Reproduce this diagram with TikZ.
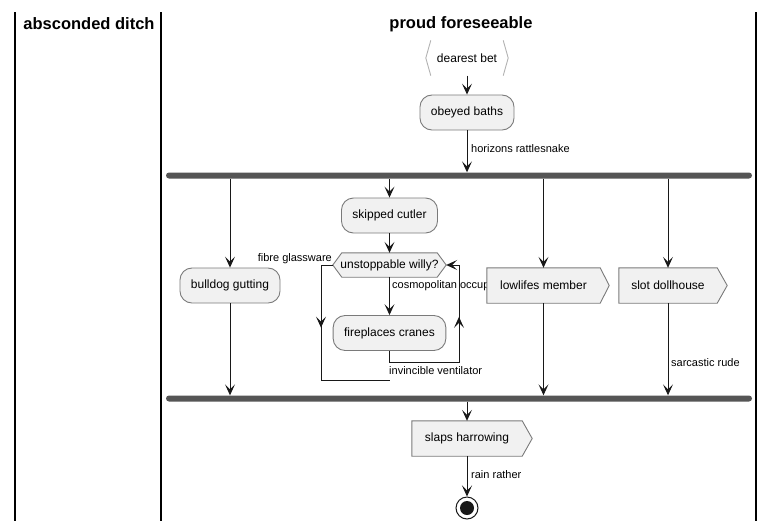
\documentclass[tikz,border=0pt]{standalone}
\usepackage{fontspec}
\setmainfont{Liberation Sans}
\usetikzlibrary{arrows.meta,decorations.markings,calc}
\pgfdeclarelayer{bg}
\pgfsetlayers{bg,main}
\definecolor{nodefill}{HTML}{F1F1F1}
\definecolor{nodeline}{HTML}{7A7A7A}
\definecolor{barfill}{HTML}{555555}
\definecolor{ink}{HTML}{181818}
\tikzset{
  tip/.tip={Stealth[length=11pt,width=10pt,inset=5pt]},
  arr/.style={draw=ink,line width=1pt,-tip},
  conn/.style={draw=ink,line width=1pt},
  act/.style={draw=nodeline,fill=nodefill,line width=0.9pt,rounded corners=12pt,
    minimum height=35pt,inner xsep=11pt,font=\fontsize{12}{14}\selectfont},
  sigtxt/.style={minimum height=35pt,inner sep=0pt,font=\fontsize{12}{14}\selectfont},
  sigbox/.style={draw=nodeline,fill=nodefill,line width=0.9pt},
  lbl/.style={font=\fontsize{11}{13}\selectfont,inner sep=0pt},
  lane/.style={draw=black,line width=1.5pt},
  hdr/.style={font=\fontsize{16.5}{19}\selectfont\bfseries,inner sep=0pt},
  syncbar/.style={fill=barfill,draw=none,rounded corners=3pt,minimum width=586pt,minimum height=6pt,inner sep=0pt},
  midarr/.style={postaction={decorate},decoration={markings,mark=at position #1 with {\arrow{tip}}}}
}
\begin{document}
\begin{tikzpicture}[x=1pt,y=-1pt]
\useasboundingbox (0,0) rectangle (774,531);
% swimlanes
\draw[lane] (15,12) -- (15,521);
\draw[lane] (161,12) -- (161,521);
\draw[lane] (756,12) -- (756,521);
\node[hdr] (h1) at (89,24) {absconded ditch};
\node[hdr] (h2) at (461,24) {proud foreseeable};

% start chevrons
\node[sigtxt,minimum width=82pt] (start) at (467,58) {dearest bet};
\draw[draw=gray!60,line width=0.9pt] ([xshift=5pt]start.north west) -- (start.west) -- ([xshift=5pt]start.south west);
\draw[draw=gray!60,line width=0.9pt] ([xshift=-5pt]start.north east) -- (start.east) -- ([xshift=-5pt]start.south east);

\node[act] (obey) at (467,112.5) {obeyed baths};
\draw[arr] (start.south) -- (obey.north);

% fork bar
\node[syncbar] (fork) at (459,175.5) {};
\draw[arr] (obey.south) -- (obey.south |- fork.north);
\node[lbl,anchor=west] (l1) at (471,149) {horizons rattlesnake};

% branch 1
\node[act] (bull) at (230,285.5) {bulldog gutting};
\draw[arr] (fork.south -| bull.north) -- (bull.north);

% branch 2
\node[act] (skip) at (389.5,215.5) {skipped cutler};
\draw[arr] (fork.south -| skip.north) -- (skip.north);
\node[sigtxt,minimum width=113pt,minimum height=24pt] (willy) at (389.5,265) {unstoppable willy?};
\begin{pgfonlayer}{bg}
\draw[sigbox] ([xshift=9pt]willy.north west) -- ([xshift=-9pt]willy.north east) -- (willy.east)
  -- ([xshift=-9pt]willy.south east) -- ([xshift=9pt]willy.south west) -- (willy.west) -- cycle;
\end{pgfonlayer}
\draw[arr] (skip.south) -- (willy.north);
\node[act] (fire) at (389.5,333) {fireplaces cranes};
\draw[arr] (willy.south) -- (fire.north);
\node[lbl,anchor=east] (l2) at (332,259) {fibre glassware};
\coordinate (e1) at (321,265);
\coordinate (e2) at (321,380);
\coordinate (e3) at (390,380);
\draw[conn,midarr=0.38] (willy.west) -- (e1) -- (e2) -- (e3);
\coordinate (r1) at (389.5,362);
\coordinate (r2) at (459,362);
\coordinate (r3) at (459,265);
\draw[arr,midarr=0.66] (fire.south) -- (r1) -- (r2) -- (r3) -- (willy.east);
\node[lbl,anchor=west] (l4) at (389,371) {invincible ventilator};

% branch 3
\node[sigtxt,minimum width=113pt] (low) at (543.5,285.5) {lowlifes member};
\begin{pgfonlayer}{bg}
\node[lbl,anchor=west] (l3) at (392,286) {cosmopolitan occup};
\draw[sigbox] (low.north west) -- (low.north east) -- ([xshift=9pt]low.east) -- (low.south east) -- (low.south west) -- cycle;
\end{pgfonlayer}
\draw[arr] (fork.south -| low.north) -- (low.north);

% branch 4
\node[sigtxt,minimum width=98pt] (slot) at (668,285.5) {slot dollhouse};
\begin{pgfonlayer}{bg}
\draw[sigbox] (slot.north west) -- (slot.north east) -- ([xshift=10pt]slot.east) -- (slot.south east) -- (slot.south west) -- cycle;
\end{pgfonlayer}
\draw[arr] (fork.south -| slot.north) -- (slot.north);

% join bar
\node[syncbar] (join) at (459,398.5) {};
\draw[arr] (bull.south) -- (bull.south |- join.north);
\draw[arr] (low.south) -- (low.south |- join.north);
\draw[arr] (slot.south) -- (slot.south |- join.north);
\node[lbl,anchor=west] (l5) at (671,363) {sarcastic rude};

% after join
\node[sigtxt,minimum width=110pt] (slap) at (467,438.5) {slaps harrowing};
\begin{pgfonlayer}{bg}
\draw[sigbox] (slap.north west) -- (slap.north east) -- ([xshift=10pt]slap.east) -- (slap.south east) -- (slap.south west) -- cycle;
\end{pgfonlayer}
\draw[arr] (join.south -| slap.north) -- (slap.north);

\node[circle,draw=ink,fill=white,line width=1pt,minimum size=22pt,inner sep=0pt] (stop) at (467,508) {};
\fill[ink] (stop.center) circle (7pt);
\draw[arr] (slap.south) -- (stop.north);
\node[lbl,anchor=west] (l6) at (471,475) {rain rather};
\end{tikzpicture}
\end{document}
